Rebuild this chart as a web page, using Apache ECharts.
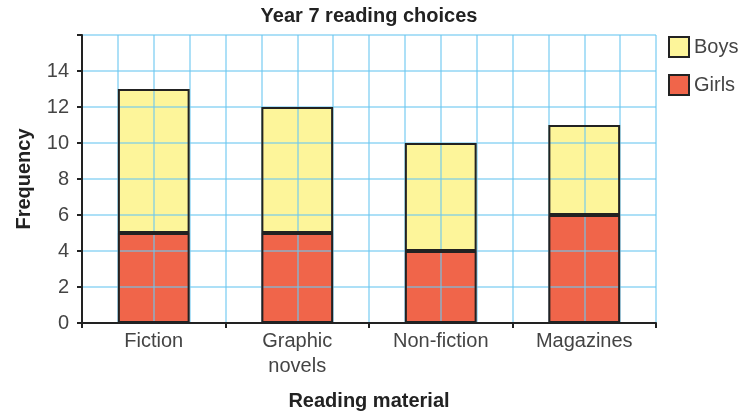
<!DOCTYPE html>
<html>
<head>
<meta charset="utf-8">
<script src="https://cdn.jsdelivr.net/npm/echarts@6/dist/echarts.min.js"></script>
<style>html,body{margin:0;padding:0;background:#fff}#c{width:741px;height:416px}</style>
</head>
<body>
<div id="c"></div>
<script>
const categories = ['Fiction', 'Graphic\nnovels', 'Non-fiction', 'Magazines'];
const girls = [5, 5, 4, 6];
const boys = [8, 7, 6, 5];
const yTicks = [0, 2, 4, 6, 8, 10, 12, 14];

const FONT = '"Liberation Sans", Arial, sans-serif';
const gridLine = 'rgba(110,200,240,0.75)';
const chart = echarts.init(document.getElementById('c'));

const fillSeries = (name, data, color) => ({
  name, type: 'bar', stack: 'fill', data, z: 2, barWidth: '50%', barGap: '-100%',
  itemStyle: { color, borderWidth: 0 }
});
const borderSeries = (data) => ({
  name: 'outline', type: 'bar', stack: 'outline', data, z: 4, barWidth: '50%', barGap: '-100%',
  itemStyle: { color: 'rgba(0,0,0,0)', borderColor: '#222', borderWidth: 2 },
  silent: true
});

chart.setOption({
  animation: false,
  textStyle: { fontFamily: FONT },
  title: {
    text: 'Year 7 reading choices', left: 369, top: 6, textAlign: 'center', padding: 0,
    textStyle: { fontFamily: FONT, fontSize: 20, fontWeight: 'bold', color: '#222' }
  },
  legend: {
    data: ['Boys', 'Girls'], orient: 'vertical', left: 668, top: 36, padding: 0,
    icon: 'rect', itemWidth: 20, itemHeight: 20, itemGap: 16,
    itemStyle: { borderColor: '#222', borderWidth: 2 },
    textStyle: { fontFamily: FONT, fontSize: 20, color: '#444' }
  },
  grid: { left: 82, right: 85, top: 35, bottom: 93, outerBoundsMode: 'none', containLabel: false },
  xAxis: [{
    type: 'category', data: categories, z: 3,
    name: 'Reading material', nameLocation: 'middle', nameGap: 68,
    nameTextStyle: { fontFamily: FONT, fontSize: 20, fontWeight: 'bold', color: '#222' },
    axisLine: { lineStyle: { color: '#222', width: 2 } },
    axisTick: { show: true, length: 5, lineStyle: { color: '#222', width: 2 } },
    axisLabel: { fontFamily: FONT, fontSize: 20, color: '#444', margin: 6, lineHeight: 25 },
    splitLine: { show: false }
  }, {
    type: 'value', min: 0, max: 16, interval: 1, position: 'top', z: 3,
    axisLine: { show: false }, axisTick: { show: false }, axisLabel: { show: false },
    splitLine: { show: true, lineStyle: { color: gridLine, width: 1.5 } }
  }],
  yAxis: {
    type: 'value', min: 0, max: 16, interval: 2, z: 3,
    name: 'Frequency', nameLocation: 'middle', nameGap: 48,
    nameTextStyle: { fontFamily: FONT, fontSize: 20, fontWeight: 'bold', color: '#222' },
    axisLine: { show: true, lineStyle: { color: '#222', width: 2 } },
    axisTick: { show: true, length: 5, lineStyle: { color: '#222', width: 2 } },
    axisLabel: {
      fontFamily: FONT, fontSize: 20, color: '#444', margin: 13,
      formatter: v => yTicks.includes(v) ? String(v) : ''
    },
    splitLine: { show: true, lineStyle: { color: gridLine, width: 1.5 } }
  },
  series: [
    fillSeries('Girls', girls, '#f0654a'),
    fillSeries('Boys', boys, '#fdf59a'),
    borderSeries(girls),
    borderSeries(boys)
  ]
});
</script>
</body>
</html>
